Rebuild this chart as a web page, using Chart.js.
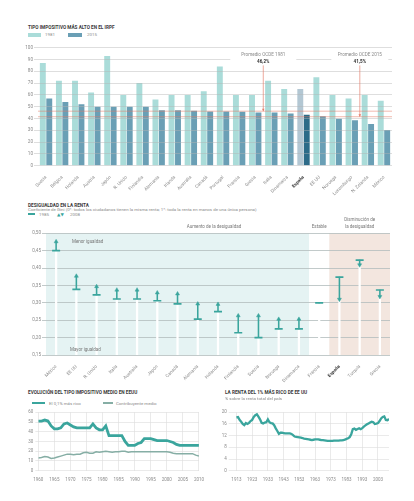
<!DOCTYPE html>
<html>
<head>
<meta charset="utf-8">
<script src="https://cdn.jsdelivr.net/npm/chart.js@4.4.0/dist/chart.umd.min.js"></script>
<style>
  body { margin: 0; background: #fff; width: 414px; height: 501px; position: relative; overflow: hidden; font-family: Roboto, "DejaVu Sans", sans-serif; }
  .box { position: absolute; }
  .t { position: absolute; font-size: 4.7px; line-height: 5px; font-weight: 700; color: #3a3a3a; white-space: nowrap; }
  .s { position: absolute; font-size: 4.4px; line-height: 5px; color: #8a8a8a; white-space: nowrap; }
  .sw { position: absolute; }
</style>
</head>
<body>

<!-- Panel 1 -->
<div class="t" style="left:28px;top:24.5px;">TIPO IMPOSITIVO MÁS ALTO EN EL IRPF</div>
<div class="sw" style="left:28px;top:33px;width:13px;height:3.5px;background:#aadcd9;"></div>
<div class="s" style="left:45px;top:32.3px;">1981</div>
<div class="sw" style="left:68px;top:33px;width:14px;height:3.5px;background:#6a9fb5;"></div>
<div class="s" style="left:87px;top:32.3px;">2015</div>
<div class="box" style="left:0;top:40px;width:414px;height:160px;"><canvas id="irpf"></canvas></div>

<!-- Panel 2 -->
<div class="t" style="left:28px;top:202.5px;">DESIGUALDAD EN LA RENTA</div>
<div class="s" style="left:28px;top:207px;">Coeficiente de Gini (0*: todos los ciudadanos tienen la misma renta; 1*: toda la renta en manos de una única persona)</div>
<div class="sw" style="left:28px;top:213.3px;width:7px;height:1.4px;background:#3aa59d;"></div>
<div class="s" style="left:39px;top:211.5px;">1985</div>
<div class="s" style="left:57px;top:211.5px;color:#3aa59d;">▲▼</div>
<div class="s" style="left:70px;top:211.5px;">2008</div>
<div class="box" style="left:0;top:215px;width:414px;height:170px;"><canvas id="gini"></canvas></div>

<!-- Panel 3 -->
<div class="t" style="left:28px;top:390.2px;">EVOLUCIÓN DEL TIPO IMPOSITIVO MEDIO EN EEUU</div>
<div class="sw" style="left:32px;top:401.8px;width:13px;height:2.6px;background:#3aa59d;"></div>
<div class="s" style="left:49px;top:400.5px;">El 0,1% más rico</div>
<div class="sw" style="left:103px;top:402.4px;width:10px;height:1.4px;background:#86aea5;"></div>
<div class="s" style="left:116px;top:400.5px;">Contribuyente medio</div>
<div class="box" style="left:0;top:405px;width:210px;height:96px;"><canvas id="tipoMedio"></canvas></div>

<!-- Panel 4 -->
<div class="t" style="left:225px;top:390.2px;">LA RENTA DEL 1% MÁS RICO DE EE UU</div>
<div class="s" style="left:225px;top:395.8px;">% sobre la renta total del país</div>
<div class="box" style="left:205px;top:405px;width:209px;height:96px;"><canvas id="renta"></canvas></div>

<script>
// Tipo impositivo más alto en el IRPF
const paisesIrpf = ['Suecia', 'Bélgica', 'Holanda', 'Austria', 'Japón', 'R. Unido', 'Finlandia', 'Alemania', 'Irlanda', 'Australia', 'Canadá',
  'Portugal', 'Francia', 'Grecia', 'Italia', 'Dinamarca', 'España', 'EE UU', 'Noruega', 'Luxemburgo', 'N. Zelanda', 'México'];
const tipo1981 = [87, 72, 72, 62, 93, 60, 70, 56, 60, 60, 63, 84, 60, 60, 72, 65, 65, 75, 60, 57, 60, 55];
const tipo2015 = [57, 54, 52, 50, 50, 50, 50, 47, 47, 46.5, 46, 46, 45.8, 45, 45, 44.3, 43.2, 42, 39.8, 38.6, 35.3, 30.2];
const promedioNombres = ['Promedio OCDE 1981', 'Promedio OCDE 2015'];
const promedioValores = [46.2, 41.5];
const promedioTextos = ['46,2%', '41,5%'];

// Desigualdad en la renta (Gini)
const paisesGini = ['México', 'EE UU', 'R. Unido', 'Italia', 'Australia', 'Japón', 'Canadá', 'Alemania', 'Holanda', 'Finlandia',
  'Suecia', 'Noruega', 'Dinamarca', 'Francia', 'España', 'Turquía', 'Grecia'];
const gini1985 = [0.450, 0.339, 0.323, 0.311, 0.311, 0.306, 0.297, 0.253, 0.275, 0.214, 0.200, 0.225, 0.225, 0.300, 0.374, 0.423, 0.337];
const gini2008 = [0.476, 0.377, 0.347, 0.337, 0.337, 0.329, 0.326, 0.297, 0.296, 0.263, 0.263, 0.253, 0.253, 0.300, 0.310, 0.409, 0.318];

// Tipo impositivo medio en EE UU
const aniosTipo = [1960, 1961, 1962, 1963, 1964, 1965, 1966, 1967, 1968, 1969, 1970, 1971, 1972, 1973, 1974, 1975, 1976, 1977, 1978, 1979,
  1980, 1981, 1982, 1983, 1984, 1985, 1986, 1987, 1988, 1989, 1990, 1991, 1992, 1993, 1994, 1995, 1996, 1997, 1998, 1999,
  2000, 2001, 2002, 2003, 2004, 2005, 2006, 2007, 2008, 2009, 2010];
const tipoRicos = [51, 51, 52, 51, 46, 43, 43, 44, 48, 49, 47, 45, 44, 44, 44, 44, 44, 48, 44, 42,
  42, 46, 36, 36, 36, 36, 36, 30, 26, 26, 26, 28, 29, 33, 33, 33, 32, 31, 31, 31,
  31, 30, 29, 27, 26, 26, 26, 26, 26, 26, 26];
const tipoMedio = [13, 13.5, 14.5, 14, 12.5, 13, 14, 15, 16, 17, 17, 16.5, 17, 17, 18.5, 19, 18, 18, 19.5, 19,
  19.5, 20, 19.5, 19, 19.5, 19.5, 20, 20, 19, 19.5, 19.5, 19.5, 19.5, 19.5, 19.5, 19.5, 19.5, 19.5, 19.5, 19.5,
  19.5, 19, 18, 17.5, 17.5, 17.5, 17.5, 17.5, 17.5, 16, 15];

// Renta del 1% más rico
const aniosRenta = [1913, 1914, 1915, 1916, 1917, 1918, 1919, 1920, 1921, 1922, 1923, 1924, 1925, 1926, 1927, 1928, 1929, 1930,
  1931, 1932, 1933, 1934, 1935, 1936, 1937, 1938, 1939, 1940, 1941, 1942, 1943, 1944, 1945, 1946, 1947, 1948, 1949, 1950,
  1951, 1952, 1953, 1954, 1955, 1956, 1957, 1958, 1959, 1960, 1961, 1962, 1963, 1964, 1965, 1966, 1967, 1968, 1969, 1970,
  1971, 1972, 1973, 1974, 1975, 1976, 1977, 1978, 1979, 1980, 1981, 1982, 1983, 1984, 1985, 1986, 1987, 1988, 1989, 1990,
  1991, 1992, 1993, 1994, 1995, 1996, 1997, 1998, 1999, 2000, 2001, 2002, 2003, 2004, 2005, 2006, 2007, 2008, 2009, 2010];
const rentaRicos = [18.3, 18.4, 17.4, 16.8, 16.0, 15.6, 16.3, 16.0, 16.4, 17.0, 17.4, 18.4, 19.0, 19.3, 18.5, 17.6, 16.4, 16.2,
  16.5, 16.6, 17.6, 16.6, 16.3, 16.2, 15.6, 14.5, 13.6, 12.6, 13.0, 13.0, 12.9, 12.8, 12.8, 12.8, 12.8, 12.6, 12.2, 11.7,
  11.6, 11.5, 11.4, 11.3, 11.2, 11.0, 10.9, 10.8, 10.7, 10.6, 10.5, 10.6, 10.7, 10.7, 10.7, 10.6, 10.5, 10.5, 10.4, 10.3,
  10.2, 10.2, 10.2, 10.2, 10.3, 10.3, 10.3, 10.3, 10.4, 10.4, 10.5, 10.6, 10.9, 11.1, 11.5, 12.5, 14.2, 14.4, 14.0, 14.3,
  14.5, 14.2, 14.6, 15.1, 15.5, 15.9, 16.2, 16.5, 16.8, 16.6, 16.0, 16.1, 16.3, 17.0, 17.9, 18.4, 18.6, 17.4, 17.3, 17.7];
const ticksRenta = [1913, 1923, 1933, 1943, 1953, 1963, 1973, 1983, 1993, 2003];

const teal = '#3aa59d';
const tickColor = '#8a8a8a';
const fontFamily = 'Roboto, "DejaVu Sans", sans-serif';
Chart.defaults.font.family = fontFamily;
Chart.defaults.animation = false;

const boldSpain = (ctx) => ({ size: 4.6, weight: ctx.tick && ctx.tick.label === 'España' ? 'bold' : 'normal' });
const colorSpain = (ctx) => (ctx.tick && ctx.tick.label === 'España' ? '#333' : tickColor);

// Promedio OCDE: horizontal line + label with arrow
const promedioPlugin = {
  id: 'promedio',
  afterDraw(chart) {
    const { ctx, chartArea, scales: { x, y } } = chart;
    const posiciones = [13.5, 19.5];
    ctx.save();
    promedioValores.forEach((v, i) => {
      const py = y.getPixelForValue(v);
      const px = x.getPixelForValue(posiciones[i]);
      ctx.strokeStyle = 'rgba(226,120,100,0.75)';
      ctx.lineWidth = 0.7;
      ctx.beginPath();
      ctx.moveTo(chartArea.left, py);
      ctx.lineTo(chartArea.right, py);
      ctx.stroke();
      // label box
      const top = y.getPixelForValue(96.5);
      const bottom = y.getPixelForValue(85);
      const w = i === 0 ? 66 : 57;
      ctx.fillStyle = '#fff';
      ctx.fillRect(px - w / 2, top, w, bottom - top);
      ctx.textAlign = 'center';
      ctx.textBaseline = 'middle';
      ctx.fillStyle = '#8a8a8a';
      ctx.font = `4.6px ${fontFamily}`;
      ctx.fillText(promedioNombres[i], px, y.getPixelForValue(94));
      ctx.fillStyle = '#333';
      ctx.font = `bold 4.6px ${fontFamily}`;
      ctx.fillText(promedioTextos[i], px, y.getPixelForValue(88));
      // arrow
      ctx.strokeStyle = 'rgba(226,120,100,0.9)';
      ctx.lineWidth = 0.7;
      ctx.beginPath();
      ctx.moveTo(px, bottom);
      ctx.lineTo(px, py);
      ctx.stroke();
      ctx.fillStyle = 'rgba(226,120,100,0.9)';
      ctx.beginPath();
      ctx.moveTo(px - 1.3, py - 2.5);
      ctx.lineTo(px + 1.3, py - 2.5);
      ctx.lineTo(px, py);
      ctx.fill();
    });
    ctx.restore();
  }
};

new Chart(document.getElementById('irpf'), {
  type: 'bar',
  data: {
    labels: paisesIrpf,
    datasets: [
      {
        label: '1981',
        data: tipo1981,
        backgroundColor: paisesIrpf.map(p => (p === 'España' ? '#b3c7d3' : '#aadcd9')),
        categoryPercentage: 0.8,
        barPercentage: 0.92,
      },
      {
        label: '2015',
        data: tipo2015,
        backgroundColor: paisesIrpf.map(p => (p === 'España' ? '#2d6b88' : '#6a9fb5')),
        categoryPercentage: 0.8,
        barPercentage: 0.92,
      },
    ],
  },
  options: {
    responsive: true,
    maintainAspectRatio: false,
    layout: { padding: { top: 7.7, right: 22, bottom: 0, left: 0 } },
    plugins: { legend: { display: false }, tooltip: { enabled: false } },
    scales: {
      x: {
        grid: { display: false },
        border: { display: false },
        ticks: { minRotation: 45, maxRotation: 45, autoSkip: false, padding: 1, font: boldSpain, color: colorSpain },
        afterFit: (s) => { s.height = 34.3; },
      },
      y: {
        min: 0,
        max: 100,
        border: { display: false },
        grid: { color: 'rgba(180,180,180,0.55)', lineWidth: 0.8, tickLength: 4, z: 1 },
        ticks: { stepSize: 10, padding: 1, font: { size: 4.6 }, color: tickColor },
        afterFit: (s) => { s.width = 38; },
      },
    },
  },
  plugins: [promedioPlugin],
});

// Zonas de fondo y rótulos del Gini
const zonasPlugin = {
  id: 'zonas',
  beforeDraw(chart) {
    const { ctx, chartArea, scales: { x } } = chart;
    const a = x.getPixelForValue(12.5);
    const b = x.getPixelForValue(13.5);
    ctx.save();
    ctx.fillStyle = '#e5f3f3';
    ctx.fillRect(chartArea.left, chartArea.top, a - chartArea.left, chartArea.bottom - chartArea.top);
    ctx.fillStyle = '#f3e6df';
    ctx.fillRect(b, chartArea.top, chartArea.right - b, chartArea.bottom - chartArea.top);
    ctx.restore();
  },
  afterDraw(chart) {
    const { ctx, chartArea, scales: { x, y } } = chart;
    ctx.save();
    ctx.fillStyle = '#777';
    ctx.font = `4.5px ${fontFamily}`;
    ctx.textBaseline = 'middle';
    ctx.textAlign = 'center';
    ctx.fillText('Aumento de la desigualdad', x.getPixelForValue(7.8), chartArea.top - 6);
    ctx.fillText('Estable', x.getPixelForValue(13), chartArea.top - 6);
    ctx.fillText('Disminución de', x.getPixelForValue(15), chartArea.top - 13);
    ctx.fillText('la desigualdad', x.getPixelForValue(15), chartArea.top - 6.5);
    ctx.textAlign = 'left';
    ctx.fillText('Menor igualdad', chartArea.left + 26, y.getPixelForValue(0.476));
    ctx.fillText('Mayor igualdad', chartArea.left + 24, y.getPixelForValue(0.166));
    ctx.restore();
  }
};

new Chart(document.getElementById('gini'), {
  type: 'bar',
  data: {
    labels: paisesGini,
    datasets: [
      {
        type: 'line',
        data: gini2008,
        showLine: false,
        pointStyle: 'triangle',
        pointRadius: gini2008.map((v, i) => (v === gini1985[i] ? 0 : 2.3)),
        pointRotation: gini2008.map((v, i) => (v < gini1985[i] ? 180 : 0)),
        pointBackgroundColor: teal,
        pointBorderColor: teal,
        pointBorderWidth: 0.5,
        order: 0,
      },
      {
        type: 'line',
        data: gini1985,
        showLine: false,
        pointStyle: 'line',
        pointRadius: 4,
        pointBorderColor: teal,
        pointBorderWidth: 1.7,
        order: 1,
      },
      {
        data: paisesGini.map((p, i) => [Math.min(gini1985[i], gini2008[i]), Math.max(gini1985[i], gini2008[i])]),
        backgroundColor: teal,
        barThickness: 0.9,
        grouped: false,
        order: 2,
      },
      {
        data: paisesGini.map((p, i) => [0.15, Math.min(gini1985[i], gini2008[i])]),
        backgroundColor: '#ffffff',
        barThickness: 1.6,
        grouped: false,
        order: 3,
      },
    ],
  },
  options: {
    responsive: true,
    maintainAspectRatio: false,
    layout: { padding: { top: 18.3, right: 24, bottom: 0, left: 0 } },
    plugins: { legend: { display: false }, tooltip: { enabled: false } },
    scales: {
      x: {
        offset: true,
        grid: { display: false },
        border: { display: false },
        ticks: { minRotation: 45, maxRotation: 45, autoSkip: false, padding: 1, font: boldSpain, color: colorSpain },
        afterFit: (s) => { s.height = 30; },
      },
      y: {
        min: 0.15,
        max: 0.5,
        border: { display: false },
        grid: { color: '#b2bcbc', lineWidth: 0.8, tickLength: 4 },
        ticks: {
          stepSize: 0.05,
          padding: 1,
          font: { size: 4.6 },
          color: tickColor,
          callback: (v) => Number(v).toFixed(2).replace('.', ','),
        },
        afterFit: (s) => { s.width = 46; },
      },
    },
  },
  plugins: [zonasPlugin],
});

// Tipo impositivo medio en EE UU
new Chart(document.getElementById('tipoMedio'), {
  type: 'line',
  data: {
    datasets: [
      {
        label: 'El 0,1% más rico',
        data: aniosTipo.map((a, i) => ({ x: a, y: tipoRicos[i] })),
        borderColor: teal,
        borderWidth: 2.8,
        pointRadius: 0,
        tension: 0,
      },
      {
        label: 'Contribuyente medio',
        data: aniosTipo.map((a, i) => ({ x: a, y: tipoMedio[i] })),
        borderColor: '#86aea5',
        borderWidth: 1.5,
        pointRadius: 0,
        tension: 0,
      },
    ],
  },
  options: {
    responsive: true,
    maintainAspectRatio: false,
    layout: { padding: { top: 7.3, right: 10, bottom: 16.3, left: 0 } },
    plugins: { legend: { display: false }, tooltip: { enabled: false } },
    scales: {
      x: {
        type: 'linear',
        min: 1960,
        max: 2010,
        border: { display: false },
        grid: { color: '#dcdcdc', lineWidth: 0.6, drawTicks: false },
        ticks: { stepSize: 5, padding: 6, font: { size: 4.5 }, color: tickColor, maxRotation: 0, autoSkip: false, callback: (v) => String(v) },
        afterFit: (s) => { s.height = 14; },
      },
      y: {
        min: 0,
        max: 60,
        border: { display: false },
        grid: { color: '#dcdcdc', lineWidth: 0.6, tickLength: 3 },
        ticks: { stepSize: 10, padding: 2, font: { size: 4.5 }, color: tickColor },
        afterFit: (s) => { s.width = 38.3; },
      },
    },
  },
});

// Renta del 1% más rico
new Chart(document.getElementById('renta'), {
  type: 'line',
  data: {
    datasets: [
      {
        data: aniosRenta.map((a, i) => ({ x: a, y: rentaRicos[i] })),
        borderColor: teal,
        borderWidth: 2.3,
        pointRadius: 0,
        tension: 0,
      },
    ],
  },
  options: {
    responsive: true,
    maintainAspectRatio: false,
    layout: { padding: { top: 7.3, right: 25, bottom: 16.3, left: 0 } },
    plugins: { legend: { display: false }, tooltip: { enabled: false } },
    scales: {
      x: {
        type: 'linear',
        min: 1910,
        max: 2010,
        border: { display: false },
        grid: { color: '#dcdcdc', lineWidth: 0.6, drawTicks: false },
        afterBuildTicks: (s) => { s.ticks = ticksRenta.map(v => ({ value: v })); },
        ticks: { padding: 6, font: { size: 4.5 }, color: tickColor, maxRotation: 0, autoSkip: false, callback: (v) => String(v) },
        afterFit: (s) => { s.height = 14; },
      },
      y: {
        min: 0,
        max: 20,
        border: { display: false },
        grid: { color: '#dcdcdc', lineWidth: 0.6, tickLength: 3 },
        ticks: { stepSize: 4, padding: 2, font: { size: 4.5 }, color: tickColor },
        afterFit: (s) => { s.width = 26.7; },
      },
    },
  },
});
</script>
</body>
</html>
